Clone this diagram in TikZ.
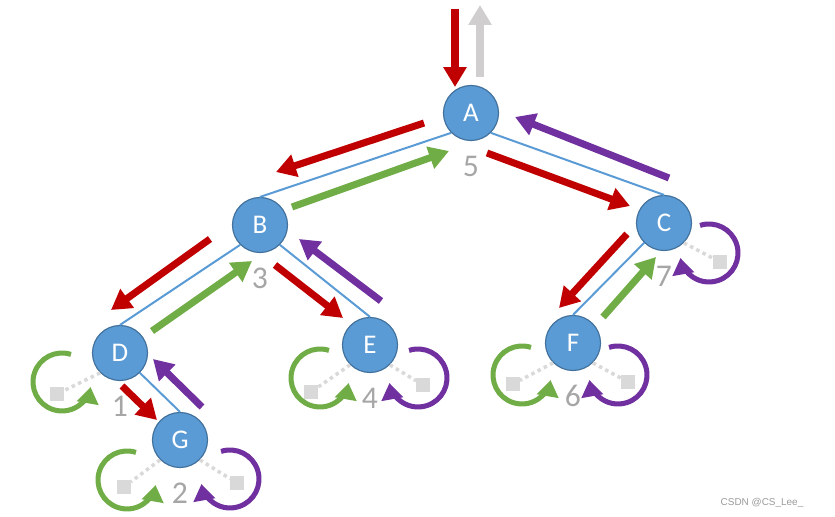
\documentclass[tikz,border=0pt]{standalone}
\usepackage{fontspec}
\setmainfont{Carlito}
\newfontfamily\markfont{Liberation Sans}
\usepackage{tikz}
\usetikzlibrary{arrows.meta}
\definecolor{c_node}{HTML}{5B9BD5}
\definecolor{c_rim}{HTML}{41719C}
\definecolor{c_red}{HTML}{C00000}
\definecolor{c_green}{HTML}{70AD47}
\definecolor{c_purple}{HTML}{7030A0}
\definecolor{c_up}{HTML}{D0CECE}
\definecolor{c_probe}{HTML}{D9D9D9}
\definecolor{c_num}{HTML}{A6A6A6}
\definecolor{c_mark}{HTML}{9A9A9A}
\tikzstyle{vertex} = [circle, draw=c_rim, fill=c_node, line width=1pt, minimum size=1.65cm, inner sep=0pt, text=white, font=\fontsize{23}{27}\selectfont]
\tikzstyle{edge} = [draw=c_node, line width=1.7pt]
\tikzstyle{order} = [text=c_num, font=\fontsize{27}{30}\selectfont, node distance=1.6cm]
\tikzstyle{walk} = [line width=6pt, -{Triangle[length=17pt,width=19pt]}]
\tikzstyle{turn} = [line width=4.3pt, -{Triangle[length=14pt,width=18pt]}]
\tikzstyle{probe} = [draw=c_probe, line width=3pt, dash pattern=on 3pt off 3pt]
\tikzstyle{stub} = [rectangle, fill=c_probe, minimum size=0.4cm, inner sep=0pt]

\begin{document}
\begin{tikzpicture}[x=0.03cm, y=0.03cm]
    \useasboundingbox (0,0) rectangle (835,-517);

    % tree nodes
    \node (A) [vertex] at (471,-113) {A};
    \node (B) [vertex] at (260,-225) {B};
    \node (C) [vertex] at (664,-223) {C};
    \node (D) [vertex] at (120,-353) {D};
    \node (E) [vertex] at (370,-345) {E};
    \node (F) [vertex] at (573,-343) {F};
    \node (G) [vertex] at (180,-440) {G};

    \node (nA) [order, below of=A] {5};
    \node (nB) [order, below of=B] {3};
    \node (nC) [order, below of=C] {7};
    \node (nD) [order, below of=D] {1};
    \node (nE) [order, below of=E] {4};
    \node (nF) [order, below of=F] {6};
    \node (nG) [order, below of=G] {2};

    % empty children
    \node (Dl) [stub] at ([shift={(-63,-41)}]D.center) {};
    \node (El) [stub] at ([shift={(-59,-47)}]E.center) {};
    \node (Er) [stub] at ([shift={(53,-40)}]E.center) {};
    \node (Cr) [stub] at ([shift={(56,-39)}]C.center) {};
    \node (Fl) [stub] at ([shift={(-60,-41)}]F.center) {};
    \node (Fr) [stub] at ([shift={(55,-39)}]F.center) {};
    \node (Gl) [stub] at ([shift={(-56,-47)}]G.center) {};
    \node (Gr) [stub] at ([shift={(57,-43)}]G.center) {};

    \draw [probe] (D.south west) -- (Dl);
    \draw [probe] (E.south west) -- (El);
    \draw [probe] (E.south east) -- (Er);
    \draw [probe] (C.south east) -- (Cr);
    \draw [probe] (F.south west) -- (Fl);
    \draw [probe] (F.south east) -- (Fr);
    \draw [probe] (G.south west) -- (Gl);
    \draw [probe] (G.south east) -- (Gr);

    \draw [edge] (A.south west) -- (B.north);
    \draw [edge] (A.south east) -- (C.north);
    \draw [edge] (B.south west) -- (D.north);
    \draw [edge] (B.south east) -- (E.north);
    \draw [edge] (D.south east) -- (G.north);
    \draw [edge] (C.south west) -- (F.north);

    % walk in and out of the root
    \draw [walk, draw=c_red] ([shift={(-16,104)}]A.center) -- ([shift={(-16,26)}]A.center);
    \draw [walk, draw=c_up] ([shift={(9,36)}]A.center) -- ([shift={(9,108)}]A.center);

    % going down
    \draw [walk, draw=c_red] ([shift={(-47,-10)}]A.center) -- ([shift={(16,53)}]B.center);
    \draw [walk, draw=c_red] ([shift={(16,-40)}]A.center) -- ([shift={(-34,17)}]C.center);
    \draw [walk, draw=c_red] ([shift={(-50,-14)}]B.center) -- ([shift={(-9,43)}]D.center);
    \draw [walk, draw=c_red] ([shift={(15,-40)}]B.center) -- ([shift={(-27,27)}]E.center);
    \draw [walk, draw=c_red] ([shift={(-37,-11)}]C.center) -- ([shift={(-14,35)}]F.center);
    \draw [walk, draw=c_red] ([shift={(2,-33)}]D.center) -- ([shift={(-23,20)}]G.center);

    % coming back up
    \draw [walk, draw=c_green] ([shift={(32,18)}]B.center) -- ([shift={(-22,-38)}]A.center);
    \draw [walk, draw=c_green] ([shift={(32,22)}]D.center) -- ([shift={(-8,-36)}]B.center);
    \draw [walk, draw=c_green] ([shift={(30,26)}]F.center) -- ([shift={(-8,-34)}]C.center);
    \draw [walk, draw=c_purple] ([shift={(5,45)}]C.center) -- ([shift={(44,-4)}]A.center);
    \draw [walk, draw=c_purple] ([shift={(11,44)}]E.center) -- ([shift={(39,-14)}]B.center);
    \draw [walk, draw=c_purple] ([shift={(22,33)}]G.center) -- ([shift={(33,-6)}]D.center);

    % turning round at empty children
    \draw [turn, draw=c_green] ([shift={(-58,-29)}]D.center) ++(72:29) arc (72:350:29);
    \draw [turn, draw=c_green] ([shift={(-50,-33)}]E.center) ++(72:29) arc (72:350:29);
    \draw [turn, draw=c_green] ([shift={(-51,-32)}]F.center) ++(72:29) arc (72:350:29);
    \draw [turn, draw=c_green] ([shift={(-53,-40)}]G.center) ++(72:29) arc (72:350:29);
    \draw [turn, draw=c_purple] ([shift={(48,-33)}]E.center) ++(108:29) arc (108:-170:29);
    \draw [turn, draw=c_purple] ([shift={(45,-30)}]C.center) ++(108:29) arc (108:-170:29);
    \draw [turn, draw=c_purple] ([shift={(45,-32)}]F.center) ++(108:29) arc (108:-170:29);
    \draw [turn, draw=c_purple] ([shift={(50,-39)}]G.center) ++(108:29) arc (108:-170:29);

    \node (mark) [text=c_mark, font=\markfont\fontsize{8.5}{10}\selectfont] at (762,-503) {CSDN @CS\_Lee\_};
\end{tikzpicture}
\end{document}
